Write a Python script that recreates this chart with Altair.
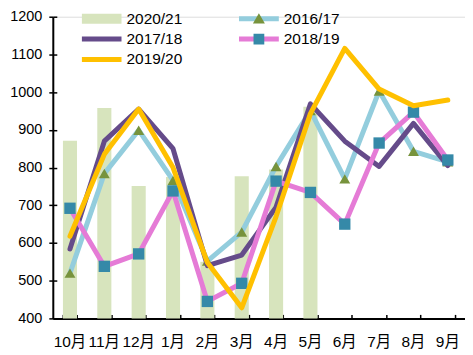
import altair as alt
import pandas as pd

FONT = "Liberation Sans, Noto Sans CJK SC, sans-serif"

months = ["10月", "11月", "12月", "1月", "2月", "3月", "4月", "5月", "6月", "7月", "8月", "9月"]

bars_2021 = [871, 958, 751, 775, 550, 777, 795, 961]
s1617 = [520, 784, 899, 766, 552, 629, 803, 951, 770, 1003, 843, 815]
s1718 = [584, 870, 955, 850, 540, 568, 695, 969, 870, 803, 917, 805]
s1819 = [692, 538, 571, 738, 445, 493, 764, 734, 650, 865, 947, 820]
s1920 = [618, 835, 955, 800, 548, 428, 670, 943, 1116, 1008, 964, 979]

y_ticks = [400, 500, 600, 700, 800, 900, 1000, 1100, 1200]

C_BAR = "#d7e4bd"
C_1617 = "#93cddd"
C_TRI = "#77933c"
C_1718 = "#654b8a"
C_1819 = "#e57bd6"
C_SQ = "#3589a8"
C_1920 = "#ffc000"

bar_df = pd.DataFrame({"month": months[:len(bars_2021)], "v": bars_2021})
rows = []
for name, vals in [("2016/17", s1617), ("2017/18", s1718), ("2018/19", s1819), ("2019/20", s1920)]:
    for m, v in zip(months, vals):
        rows.append({"month": m, "s": name, "v": v})
line_df = pd.DataFrame(rows)

xscale = alt.Scale(domain=months, paddingInner=0.59, paddingOuter=0.295)
yscale = alt.Scale(domain=[400, 1200], nice=False, zero=False)

main_x_axis = alt.Axis(title=None, ticks=False, labelAngle=0, labelPadding=16,
                       labelFontSize=15.5, labelFont=FONT, labelColor="black",
                       domainColor="black", domainWidth=2, grid=False)
main_y_axis = alt.Axis(title=None, values=y_ticks, format="d", tickSize=4, tickColor="black", tickWidth=1.5,
                       labelPadding=7, labelFontSize=14.5, labelFont=FONT, labelColor="black",
                       domainColor="black", domainWidth=2, grid=False)
tick_x_axis = alt.Axis(title=None, orient="bottom", offset=-4, tickSize=4, tickBand="extent",
                       tickColor="black", tickWidth=1.5, labels=False, domain=False, grid=False)
tick_y_axis = alt.Axis(title=None, orient="left", offset=-4, tickSize=4, values=y_ticks,
                       tickColor="black", tickWidth=1.5, labels=False, domain=False, grid=False)

bars = alt.Chart(bar_df).mark_bar(color=C_BAR).encode(
    x=alt.X("month:N", scale=xscale, axis=main_x_axis),
    y=alt.Y("v:Q", scale=yscale, axis=main_y_axis),
    y2=alt.datum(400),
)

def line_layer(name, color, xaxis=None, yaxis=None):
    return alt.Chart(line_df).transform_filter(alt.datum.s == name).mark_line(
        color=color, strokeWidth=5, strokeCap="round", strokeJoin="round"
    ).encode(
        x=alt.X("month:N", scale=xscale, axis=xaxis),
        y=alt.Y("v:Q", scale=yscale, axis=yaxis),
    )

def point_layer(name, color, shape, size):
    return alt.Chart(line_df).transform_filter(alt.datum.s == name).mark_point(
        color=color, filled=True, opacity=1, shape=shape, size=size
    ).encode(
        x=alt.X("month:N", scale=xscale, axis=None),
        y=alt.Y("v:Q", scale=yscale, axis=None),
    )

l1617 = line_layer("2016/17", C_1617, tick_x_axis, tick_y_axis)
p1617 = point_layer("2016/17", C_TRI, "triangle-up", 120)
l1718 = line_layer("2017/18", C_1718)
l1819 = line_layer("2018/19", C_1819)
p1819 = point_layer("2018/19", C_SQ, "square", 130)
l1920 = line_layer("2019/20", C_1920)

RECT = "M-1,-0.25H1V0.25H-1Z"
LINE = "M-1,-0.125H1V0.125H-1Z"
TRI = "M0,-0.27L0.3,0.24L-0.3,0.24Z"
SQR = "M-0.27,-0.27H0.27V0.27H-0.27Z"

def legend_def(x, y, zindex=0, label_opacity=1):
    return alt.Legend(title=None, orient="none", legendX=x, legendY=y, direction="vertical",
                      symbolSize=1600, symbolStrokeWidth=0, symbolOpacity=1, clipHeight=18,
                      rowPadding=2.5, labelFontSize=15.5, labelFont=FONT, labelColor="black",
                      labelOffset=5, padding=0, offset=0, zindex=zindex, labelOpacity=label_opacity)

def legend_layer(names, colors, shapes, x, y, zindex=0, label_opacity=1):
    lg = legend_def(x, y, zindex, label_opacity)
    return alt.Chart(alt.Data(values=[{"s": n} for n in names])).mark_point(filled=True).encode(
        y=alt.Y("v:Q", scale=yscale, axis=None),
        fill=alt.Fill("s:N", scale=alt.Scale(domain=names, range=colors), legend=lg),
        shape=alt.Shape("s:N", scale=alt.Scale(domain=names, range=shapes), legend=lg),
    )

leg_left_names = ["2020/21", "2017/18", "2019/20"]
leg_right_names = ["2016/17", "2018/19"]

legA = legend_layer(leg_left_names, [C_BAR, C_1718, C_1920], [RECT, LINE, LINE], 29, -7)
legB = legend_layer(leg_right_names, [C_1617, C_1819], [LINE, LINE], 187, -7)
legC = legend_layer(leg_right_names, [C_TRI, C_SQ], [TRI, SQR], 187, -7, zindex=1, label_opacity=0)

chart = alt.layer(
    bars, l1617, p1617, l1718, l1819, p1819, l1920, legA, legB, legC
).resolve_scale(
    fill="independent", shape="independent"
).resolve_axis(
    x="independent", y="independent"
).properties(
    width=414, height=303,
    autosize=alt.AutoSizeParams(type="none"),
    padding={"left": 45, "top": 8, "right": 0, "bottom": 30},
).configure_view(stroke=None).configure(background="white")

chart.save("out.html", embed_options={"renderer": "svg", "actions": False})
